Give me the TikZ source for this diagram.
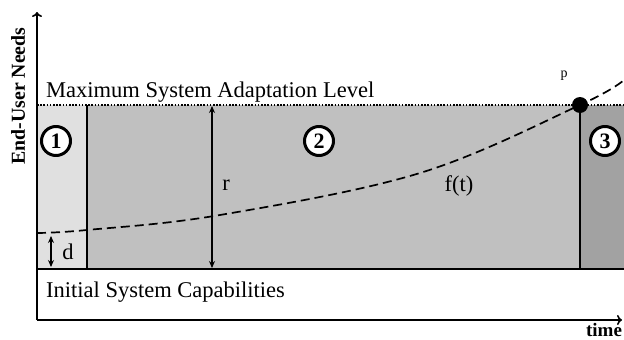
\documentclass[tikz,border=0pt]{standalone}
\usepackage{fontspec}
\setmainfont{Liberation Serif}
\usetikzlibrary{arrows.meta,calc}
\definecolor{ZoneOne}{RGB}{224,224,224}
\definecolor{ZoneTwo}{RGB}{192,192,192}
\definecolor{ZoneThree}{RGB}{162,162,162}

\begin{document}
\begin{tikzpicture}[
  x=1pt, y=-1pt,
  line join=round,
  every node/.style={font=\fontsize{22.5}{24}\selectfont, inner sep=0pt},
  axis/.style={line width=1.6pt, -{To[length=5pt,width=10pt]}},
  span/.style={line width=1.1pt, {Stealth[length=7pt,width=6pt]}-{Stealth[length=7pt,width=6pt]}},
  zone/.style={circle, draw, line width=3pt, fill=white, minimum size=29pt,
    font=\bfseries\fontsize{22}{22}\selectfont}
]
  \useasboundingbox (0,0) rectangle (624,340);

  \coordinate (o)    at (37,320);
  \coordinate (ytip) at (37,12);
  \coordinate (xtip) at (622,320);
  \coordinate (maxl) at (37,105);
  \coordinate (maxr) at (624,105);
  \coordinate (bas)  at (37,269);
  \coordinate (basr) at (624,269);

  % Shaded zones between initial and maximum level
  \fill[ZoneOne]   (37,105)  rectangle (87,269);
  \fill[ZoneTwo]   (87,105)  rectangle (580,269);
  \fill[ZoneThree] (580,105) rectangle (624,269);

  % Levels
  \draw[line width=1.6pt, dash pattern=on 1.6pt off 1.6pt] (maxl) -- (maxr);
  \draw[line width=2.2pt] (bas) -- (basr);
  \draw[line width=1.4pt] (87,105) -- (87,269);
  \draw[line width=1.4pt] (580,105) -- (580,269);

  % Needs curve f(t)
  \draw[line width=1.7pt, dash pattern=on 9pt off 5pt]
    plot[smooth, tension=0.6] coordinates
    {(37,233) (87,230) (220,215) (420,173) (580,105) (624,80)};
  \node[circle, fill=black, minimum size=16pt] (p) at (580,105) {};
  \node[font=\fontsize{14}{14}\selectfont] (plab) at (564,76) {p};

  % Axes
  \draw[axis] (o) -- (ytip);
  \draw[axis] (o) -- (xtip);
  \node[rotate=90, font=\bfseries\fontsize{19.8}{20}\selectfont] (ylab) at (18,96) {End-User Needs};
  \node[font=\bfseries\fontsize{19}{19}\selectfont] (xlab) at (604,330) {time};

  \node[anchor=base west] (maxt) at (46,97) {Maximum System Adaptation Level};
  \node[anchor=base west] (init) at (46,297) {Initial System Capabilities};

  % Spans r and d
  \coordinate (rtop) at (212,106);
  \coordinate (rbot) at (212,268);
  \draw[span] (rtop) -- (rbot);
  \node (rlab) at (226,185) {r};
  \coordinate (dtop) at (51,236);
  \coordinate (dbot) at (51,267);
  \draw[span] (dtop) -- (dbot);
  \node (dlab) at (68,252) {d};
  \node (flab) at (459,186) {f(t)};

  \node[zone] (z1) at (56,141)  {1};
  \node[zone] (z2) at (319,141) {2};
  \node[zone] (z3) at (605,141) {3};
\end{tikzpicture}
\end{document}
